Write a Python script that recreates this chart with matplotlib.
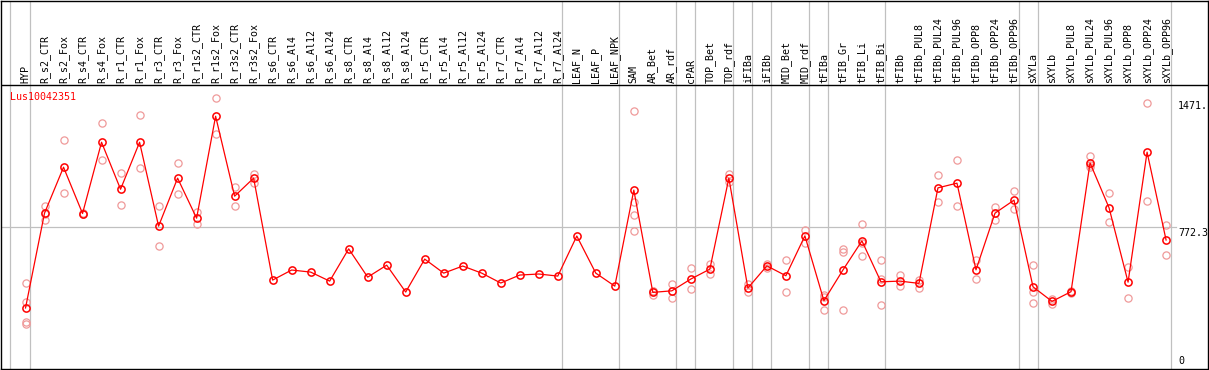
import matplotlib.pyplot as plt

# Column names (header labels)
samples = ["HYP", "R_s2_CTR", "R_s2_Fox", "R_s4_CTR", "R_s4_Fox", "R_r1_CTR", "R_r1_Fox",
           "R_r3_CTR", "R_r3_Fox", "R_r1s2_CTR", "R_r1s2_Fox", "R_r3s2_CTR", "R_r3s2_Fox",
           "R_s6_CTR", "R_s6_Al4", "R_s6_Al12", "R_s6_Al24", "R_s8_CTR", "R_s8_Al4",
           "R_s8_Al12", "R_s8_Al24", "R_r5_CTR", "R_r5_Al4", "R_r5_Al12", "R_r5_Al24",
           "R_r7_CTR", "R_r7_Al4", "R_r7_Al12", "R_r7_Al24", "LEAF_N", "LEAF_P", "LEAF_NPK",
           "SAM", "AR_Bet", "AR_rdf", "cPAR", "TOP_Bet", "TOP_rdf", "iFIBa", "iFIBb",
           "MID_Bet", "MID_rdf", "tFIBa", "tFIB_Gr", "tFIB_Li", "tFIB_Bi", "tFIBb",
           "tFIBb_PUL8", "tFIBb_PUL24", "tFIBb_PUL96", "tFIBb_OPP8", "tFIBb_OPP24",
           "tFIBb_OPP96", "sXYLa", "sXYLb", "sXYLb_PUL8", "sXYLb_PUL24", "sXYLb_PUL96",
           "sXYLb_OPP8", "sXYLb_OPP24", "sXYLb_OPP96"]

# Mean expression per sample
means = [307, 854, 1119, 852, 1263, 992, 1263, 779, 1056, 825, 1413, 952, 1056,
         468, 526, 514, 462, 648, 485, 554, 399, 589, 508, 549, 508, 451, 497, 503, 491,
         722, 508, 433, 987, 397, 406, 474, 531, 1056, 422, 550, 493, 723, 349, 526, 694,
         458, 462, 449, 1000, 1027, 527, 854, 929, 429, 345, 401, 1144, 885, 456, 1206, 699]

# Replicate values (empty where none shown)
replicates = [
    [450, 343, 224, 216], [896, 850, 816], [1275, 970], [856, 848], [1373, 1160],
    [1085, 900], [1419, 1114], [894, 664], [1142, 964], [858, 789], [1517, 1310],
    [1004, 894], [1081, 1027],
    [], [], [], [], [], [], [], [], [], [], [], [], [], [], [], [], [], [], [],
    [1442, 919, 843, 750], [405, 382, 404], [447, 362], [539, 414], [560, 503],
    [1077, 1036], [445, 401], [560, 540], [583, 399], [758, 681], [383, 295, 368],
    [647, 631, 297], [791, 681, 606], [583, 476, 326], [495, 435], [470, 424],
    [1073, 918], [1161, 895], [581, 474], [892, 817], [983, 877], [556, 397, 335],
    [360, 330], [405, 396], [1184, 1130, 1120], [970, 802], [546, 364], [1488, 923],
    [787, 612]]

# Group separators drawn after these columns
group_ends = [0, 28, 31, 34, 35, 37, 38, 39, 41, 42, 45, 52, 53, 60]

gene = "Lus10042351"
ref_value = 772.3
max_value = 1471

# pixel -> value mapping of the original (0 at y=361.5, 0.1735 px per unit)
def yval(py):
    return (361.5 - py) / 0.1735

fig = plt.figure(figsize=(12.09, 3.70), dpi=100)
ax = fig.add_axes([0.5 / 1209, 0.8 / 370, 1207.6 / 1209, 368.7 / 370])
ax.set_xlim((1 - 26) / 19, (1208 - 26) / 19)
ax.set_ylim(yval(369.5), yval(0.5))
for s in ax.spines.values():
    s.set_linewidth(1.0)
ax.set_xticks([])
ax.set_yticks([])

mono = "DejaVu Sans Mono"
grey = "#c0c0c0"

# separators
ax.axvline(-0.81, color=grey, lw=0.9, zorder=1)
for g in group_ends:
    ax.axvline(g + 0.24, color=grey, lw=0.9, zorder=1)
ax.plot([(1 - 26) / 19, (1176 - 26) / 19], [ref_value, ref_value], color=grey, lw=0.9, zorder=1)

# header
ax.axhline(yval(85), color="black", lw=1.0, zorder=2)
for i, name in enumerate(samples):
    ax.text(i, yval(83.5), name, rotation=90, ha="center", va="bottom",
            fontsize=7.2, family=mono, color="black")

# replicates
for i, reps in enumerate(replicates):
    ax.plot([i] * len(reps), reps, linestyle="none", marker="o", markersize=5.2,
            markerfacecolor="none", markeredgecolor="#ef9a9a", markeredgewidth=0.9, zorder=3)

# mean profile
x = list(range(len(samples)))
ax.plot(x, means, color="red", lw=0.9, marker="o", markersize=5.2,
        markerfacecolor="none", markeredgecolor="red", markeredgewidth=1.1, zorder=4)

# labels
ax.text(-0.842, yval(92), gene, color="red", fontsize=7.2, family=mono, ha="left", va="top")
xr = (1178 - 26) / 19
ax.text(xr, max_value, "1471.", fontsize=7.2, family=mono, ha="left", va="center")
ax.text(xr, ref_value - 3, "772.3", fontsize=7.2, family=mono, ha="left", va="top")
ax.text(xr, 0, "0", fontsize=7.2, family=mono, ha="left", va="center")

fig.savefig("out.png", dpi=100)
